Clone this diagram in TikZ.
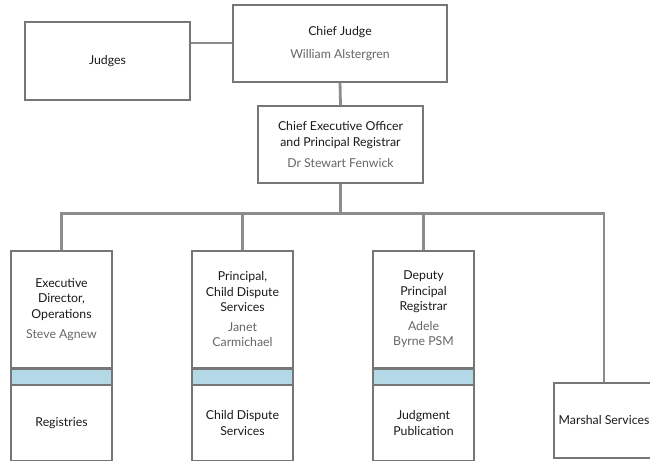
\documentclass[tikz,border=0pt]{standalone}
\usepackage{fontspec}
\setmainfont{Lato}
\definecolor{boxgray}{HTML}{767676}
\definecolor{linegray}{HTML}{8C8C8C}
\definecolor{titlecol}{HTML}{1A1A1A}
\definecolor{namecol}{HTML}{666666}
\definecolor{bandblue}{HTML}{B3D8E6}
\newcommand{\pn}[1]{{\color{namecol}#1}}
\begin{document}
\begin{tikzpicture}[x=1pt,y=-1pt,
  box/.style={draw=boxgray, line width=1.3pt, fill=white, inner sep=0pt, align=center, font=\fontsize{12.3}{15.5}\selectfont, text=titlecol},
  band/.style={fill=bandblue, draw=boxgray, line width=1.3pt, inner sep=0pt},
  conn/.style={draw=linegray, line width=2.8pt}]
\clip (0,0) rectangle (650,463);
\fill[white] (0,0) rectangle (650,463);
% top
\node[box, minimum width=165pt, minimum height=78pt] (judges) at (107.5,61) {Judges};
\node[box, minimum width=214pt, minimum height=77pt] (cj) at (340,43.5) {Chief Judge\\[7pt]\pn{William Alstergren}};
\node[box, minimum width=165pt, minimum height=77pt] (ceo) at (340.5,144.5) {Chief Executive Officer\\[1pt]and Principal Registrar\\[5pt]\pn{Dr Stewart Fenwick}};
% children
\node[box, minimum width=101pt, minimum height=117pt] (exec) at (61.5,309.5) {Executive\\Director,\\Operations\\[5pt]\pn{Steve Agnew}};
\node[box, minimum width=101pt, minimum height=117pt] (prin) at (242.5,309.5) {Principal,\\Child Dispute\\Services\\[4pt]\pn{Janet}\\\pn{Carmichael}};
\node[box, minimum width=101pt, minimum height=117pt] (dep) at (423.5,309.5) {Deputy\\Principal\\Registrar\\[4pt]\pn{Adele}\\\pn{Byrne PSM}};
\node[band, minimum width=101pt, minimum height=15pt, anchor=north] (b1) at (exec.south) {};
\node[band, minimum width=101pt, minimum height=15pt, anchor=north] (b2) at (prin.south) {};
\node[band, minimum width=101pt, minimum height=15pt, anchor=north] (b3) at (dep.south) {};
\node[box, minimum width=101pt, minimum height=75pt, anchor=north] (reg) at (b1.south) {Registries};
\node[box, minimum width=101pt, minimum height=75pt, anchor=north] (cds) at (b2.south) {Child Dispute\\Services};
\node[box, minimum width=101pt, minimum height=75pt, anchor=north] (jp) at (b3.south) {Judgment\\Publication};
\node[box, minimum width=100pt, minimum height=75pt] (mar) at (604,420.5) {Marshal Services};
% connectors
\draw[conn] (judges.east |- 0,43) -- (cj.west |- 0,43);
\draw[conn] (cj.south) -- (ceo.north);
\draw[conn] (ceo.south) -- ++(0,30) coordinate (bus);
\draw[conn] (exec.north) -- (exec.north |- bus) -- (mar.north |- bus) -- (mar.north);
\draw[conn] (prin.north) -- (prin.north |- bus);
\draw[conn] (dep.north) -- (dep.north |- bus);
\end{tikzpicture}
\end{document}
